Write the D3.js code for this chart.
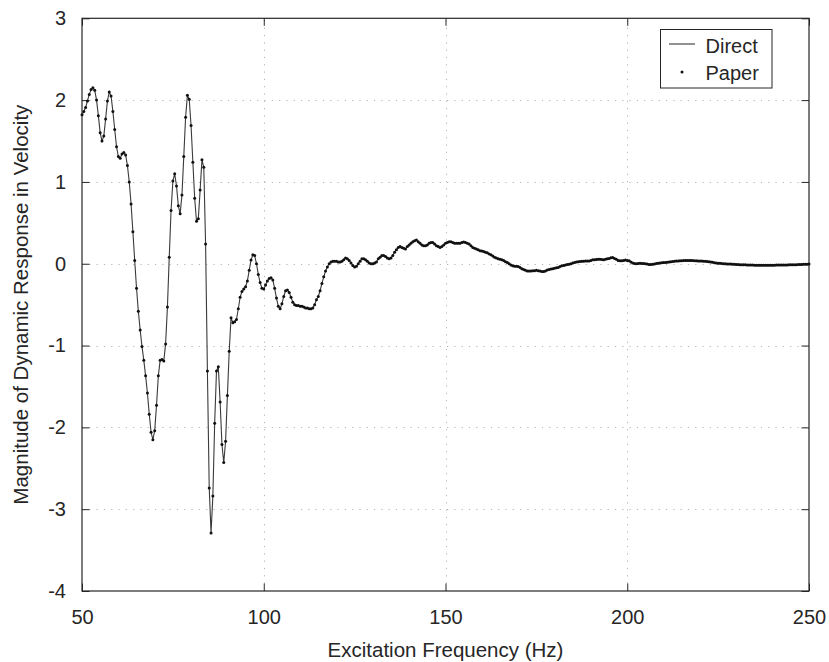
<!DOCTYPE html>
<html>
<head>
<meta charset="utf-8">
<script src="https://cdn.jsdelivr.net/npm/d3@7/dist/d3.min.js"></script>
<style>
  html, body { margin: 0; padding: 0; background: #fff; }
  svg { display: block; }
  text { font-family: "Liberation Sans", Arial, Helvetica, sans-serif; fill: #262626; }
</style>
</head>
<body>
<svg id="chart" width="829" height="662"></svg>
<script>
// ---- data ----
const freqStart = 50;      // Hz, first sample
const freqStep = 0.5;      // Hz, sample spacing
const response = [
  1.82, 1.86, 1.91, 1.99, 2.07, 2.13, 2.15, 2.12, 2.00, 1.81,
  1.60, 1.50, 1.56, 1.77, 1.99, 2.10, 2.05, 1.86, 1.64, 1.43,
  1.31, 1.29, 1.34, 1.36, 1.33, 1.20, 1.00, 0.73, 0.39, 0.04,
  -0.30, -0.58, -0.81, -1.01, -1.18, -1.37, -1.58, -1.84, -2.06, -2.15,
  -2.04, -1.73, -1.37, -1.18, -1.17, -1.19, -0.98, -0.53, 0.08, 0.65,
  1.01, 1.10, 0.95, 0.71, 0.61, 0.84, 1.31, 1.79, 2.06, 2.01,
  1.69, 1.24, 0.80, 0.52, 0.55, 0.90, 1.27, 1.18, 0.24, -1.31,
  -2.74, -3.29, -2.84, -1.95, -1.31, -1.26, -1.69, -2.21, -2.43, -2.17,
  -1.61, -1.07, -0.66, -0.72, -0.71, -0.68, -0.55, -0.41, -0.34, -0.31,
  -0.28, -0.21, -0.08, 0.045, 0.11, 0.10, 0.00, -0.13, -0.23, -0.30,
  -0.31, -0.26, -0.21, -0.18, -0.17, -0.20, -0.30, -0.42, -0.52, -0.55,
  -0.49, -0.40, -0.33, -0.32, -0.35, -0.41, -0.47, -0.50, -0.51, -0.51,
  -0.52, -0.52, -0.53, -0.54, -0.54, -0.55, -0.55, -0.54, -0.50, -0.44,
  -0.40, -0.33, -0.24, -0.16, -0.09, -0.04, 0.00, 0.02, 0.03, 0.03,
  0.03, 0.02, 0.02, 0.03, 0.05, 0.07, 0.06, 0.04, 0.01, -0.02,
  -0.04, -0.03, 0.00, 0.03, 0.06, 0.06, 0.05, 0.03, 0.01, 0.00,
  0.00, 0.01, 0.02, 0.06, 0.08, 0.10, 0.10, 0.09, 0.07, 0.06,
  0.07, 0.10, 0.14, 0.17, 0.20, 0.21, 0.20, 0.19, 0.18, 0.21,
  0.23, 0.25, 0.27, 0.28, 0.29, 0.27, 0.25, 0.23, 0.22, 0.22,
  0.23, 0.25, 0.26, 0.26, 0.24, 0.22, 0.21, 0.20, 0.21, 0.23,
  0.25, 0.26, 0.27, 0.27, 0.26, 0.25, 0.25, 0.25, 0.25, 0.26,
  0.265, 0.26, 0.25, 0.24, 0.22, 0.20, 0.19, 0.18, 0.17, 0.16,
  0.155, 0.15, 0.14, 0.135, 0.12, 0.11, 0.095, 0.08, 0.07, 0.06,
  0.055, 0.05, 0.04, 0.025, 0.015, 0.0, -0.015, -0.025, -0.03, -0.03,
  -0.035, -0.045, -0.06, -0.07, -0.08, -0.09, -0.09, -0.09, -0.085, -0.085,
  -0.08, -0.085, -0.09, -0.095, -0.095, -0.09, -0.075, -0.07, -0.065, -0.06,
  -0.055, -0.05, -0.045, -0.035, -0.025, -0.02, -0.015, -0.01, -0.005, 0.0,
  0.01, 0.015, 0.02, 0.025, 0.027, 0.03, 0.03, 0.032, 0.035, 0.035,
  0.04, 0.048, 0.05, 0.053, 0.055, 0.055, 0.052, 0.05, 0.055, 0.06,
  0.065, 0.072, 0.077, 0.065, 0.055, 0.04, 0.037, 0.037, 0.04, 0.045,
  0.04, 0.037, 0.02, 0.01, 0.003, 0.0, 0.004, 0.005, 0.004, 0.002,
  0.0, -0.004, -0.008, -0.008, -0.006, -0.002, 0.002, 0.005, 0.008, 0.011,
  0.014, 0.016, 0.019, 0.022, 0.024, 0.027, 0.03, 0.033, 0.035, 0.037,
  0.038, 0.04, 0.041, 0.041, 0.041, 0.041, 0.04, 0.038, 0.037, 0.035,
  0.033, 0.032, 0.03, 0.029, 0.026, 0.023, 0.02, 0.017, 0.013, 0.01,
  0.007, 0.005, 0.003, 0.001, 0.0, -0.002, -0.003, -0.004, -0.006, -0.007,
  -0.008, -0.01, -0.011, -0.012, -0.012, -0.013, -0.014, -0.015, -0.016, -0.016,
  -0.017, -0.017, -0.018, -0.018, -0.018, -0.018, -0.018, -0.018, -0.018, -0.017,
  -0.017, -0.017, -0.016, -0.016, -0.016, -0.015, -0.015, -0.014, -0.014, -0.013,
  -0.013, -0.012, -0.012, -0.011, -0.01, -0.009, -0.008, -0.007, -0.006, -0.005,
  -0.004
];
const xTicks = [50, 100, 150, 200, 250];
const yTicks = [-4, -3, -2, -1, 0, 1, 2, 3];
const xTickLabels = ["50", "100", "150", "200", "250"];
const yTickLabels = ["-4", "-3", "-2", "-1", "0", "1", "2", "3"];
const xLabel = "Excitation Frequency (Hz)";
const yLabel = "Magnitude of Dynamic Response in Velocity";
const legendLabels = ["Direct", "Paper"];

// ---- layout ----
const L = 82, R = 809, T = 18.3, B = 591;
const svg = d3.select("#chart");
const x = d3.scaleLinear().domain([50, 250]).range([L, R]);
const y = d3.scaleLinear().domain([-4, 3]).range([B, T]);
const data = response.map((v, i) => ({ f: freqStart + freqStep * i, v }));

// grid
const grid = svg.append("g").attr("stroke", "#b3b3b3").attr("stroke-width", 1)
  .attr("stroke-dasharray", "1.2,6.1");
grid.selectAll(".gx").data(xTicks.slice(1, -1)).join("line")
  .attr("x1", d => Math.round(x(d)) + 0.5).attr("x2", d => Math.round(x(d)) + 0.5)
  .attr("y1", B).attr("y2", T);
grid.selectAll(".gy").data(yTicks.slice(1, -1)).join("line")
  .attr("y1", d => Math.round(y(d)) + 0.5).attr("y2", d => Math.round(y(d)) + 0.5)
  .attr("x1", L).attr("x2", R);

// axes (MATLAB-style inward ticks)
const tickLen = 7.5;
const xFmt = d => xTickLabels[xTicks.indexOf(d)];
const yFmt = d => yTickLabels[yTicks.indexOf(d)];
const xAxisB = d3.axisBottom(x).tickValues(xTicks).tickFormat(xFmt).tickSizeInner(-tickLen).tickSizeOuter(0).tickPadding(19);
const xAxisT = d3.axisTop(x).tickValues(xTicks).tickSizeInner(-tickLen).tickSizeOuter(0).tickFormat("");
const yAxisL = d3.axisLeft(y).tickValues(yTicks).tickFormat(yFmt).tickSizeInner(-tickLen).tickSizeOuter(0).tickPadding(16);
const yAxisR = d3.axisRight(y).tickValues(yTicks).tickSizeInner(-tickLen).tickSizeOuter(0).tickFormat("");

function styleAxis(g) {
  g.select(".domain").remove();
  g.selectAll(".tick line").attr("stroke", "#262626");
  g.selectAll(".tick text").attr("font-size", 20).attr("fill", "#262626")
    .attr("font-family", "'Liberation Sans', Arial, sans-serif");
}
svg.append("g").attr("transform", `translate(0,${B})`).call(xAxisB).call(styleAxis);
svg.append("g").attr("transform", `translate(0,${T})`).call(xAxisT).call(styleAxis);
svg.append("g").attr("transform", `translate(${L},0)`).call(yAxisL).call(styleAxis);
svg.append("g").attr("transform", `translate(${R},0)`).call(yAxisR).call(styleAxis);

// box
svg.append("rect").attr("x", L).attr("y", T).attr("width", R - L).attr("height", B - T)
  .attr("fill", "none").attr("stroke", "#262626").attr("stroke-width", 1.2);

// line
const line = d3.line().x(d => x(d.f)).y(d => y(d.v));
svg.append("path").datum(data).attr("d", line)
  .attr("fill", "none").attr("stroke", "#3a3a3a").attr("stroke-width", 1.1);

// dots
svg.append("g").selectAll("circle").data(data).join("circle")
  .attr("cx", d => x(d.f)).attr("cy", d => y(d.v)).attr("r", 1.5).attr("fill", "#111");

// axis titles
svg.append("text").attr("x", (L + R) / 2).attr("y", 657).attr("text-anchor", "middle")
  .attr("font-size", 20.5).text(xLabel);
svg.append("text").attr("transform", `translate(28,${(T + B) / 2}) rotate(-90)`)
  .attr("text-anchor", "middle").attr("font-size", 20.5).text(yLabel);

// legend
const lg = svg.append("g");
lg.append("rect").attr("x", 660.5).attr("y", 29.5).attr("width", 111.5).attr("height", 58.5)
  .attr("fill", "#fff").attr("stroke", "#262626").attr("stroke-width", 1);
lg.append("line").attr("x1", 669).attr("x2", 695).attr("y1", 44).attr("y2", 44)
  .attr("stroke", "#3a3a3a").attr("stroke-width", 1.1);
lg.append("circle").attr("cx", 682).attr("cy", 72).attr("r", 1.5).attr("fill", "#111");
lg.selectAll("text").data(legendLabels).join("text")
  .attr("x", 705.5).attr("y", (d, i) => 52.5 + i * 27.5).attr("font-size", 20).text(d => d);
</script>
</body>
</html>
